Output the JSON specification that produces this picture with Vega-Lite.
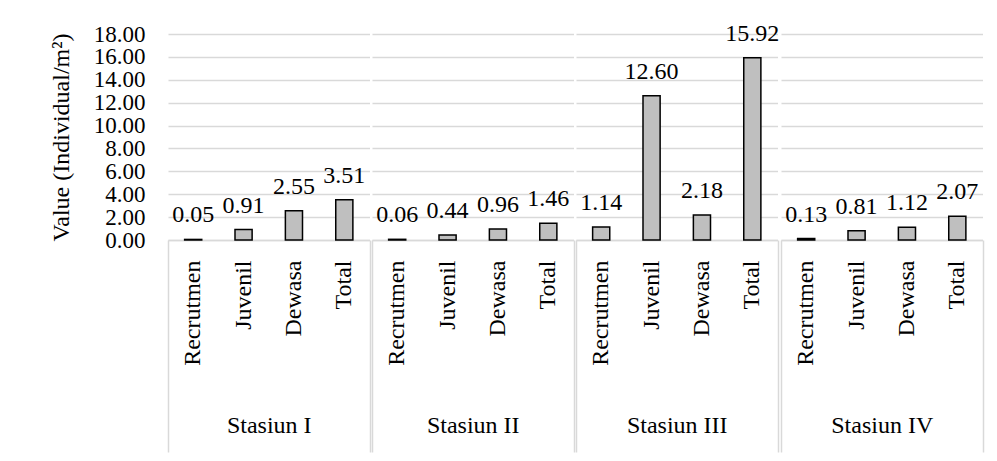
{
  "$schema": "https://vega.github.io/schema/vega-lite/v6.json",
  "background": "white",
  "padding": {"left": 49, "top": 21, "right": 5, "bottom": 5},
  "config": {"view": {"stroke": null}, "font": "Liberation Serif, Times New Roman, DejaVu Serif, serif"},
  "data": {"values": [
    {"stasiun": "Stasiun I", "kategori": "Recrutmen", "value": 0.05},
    {"stasiun": "Stasiun I", "kategori": "Juvenil", "value": 0.91},
    {"stasiun": "Stasiun I", "kategori": "Dewasa", "value": 2.55},
    {"stasiun": "Stasiun I", "kategori": "Total", "value": 3.51},
    {"stasiun": "Stasiun II", "kategori": "Recrutmen", "value": 0.06},
    {"stasiun": "Stasiun II", "kategori": "Juvenil", "value": 0.44},
    {"stasiun": "Stasiun II", "kategori": "Dewasa", "value": 0.96},
    {"stasiun": "Stasiun II", "kategori": "Total", "value": 1.46},
    {"stasiun": "Stasiun III", "kategori": "Recrutmen", "value": 1.14},
    {"stasiun": "Stasiun III", "kategori": "Juvenil", "value": 12.60},
    {"stasiun": "Stasiun III", "kategori": "Dewasa", "value": 2.18},
    {"stasiun": "Stasiun III", "kategori": "Total", "value": 15.92},
    {"stasiun": "Stasiun IV", "kategori": "Recrutmen", "value": 0.13},
    {"stasiun": "Stasiun IV", "kategori": "Juvenil", "value": 0.81},
    {"stasiun": "Stasiun IV", "kategori": "Dewasa", "value": 1.12},
    {"stasiun": "Stasiun IV", "kategori": "Total", "value": 2.07}
  ]},
  "facet": {"column": {"field": "stasiun", "type": "nominal", "sort": ["Stasiun I", "Stasiun II", "Stasiun III", "Stasiun IV"], "header": null}},
  "spacing": 0,
  "resolve": {"scale": {"x": "independent"}},
  "spec": {
    "width": 201.5,
    "height": 206,
    "layer": [
      {
        "layer": [
          {
            "mark": {"type": "bar", "fill": "#bfbfbf", "stroke": "black", "strokeWidth": 1.5},
            "encoding": {
              "x": {"field": "kategori", "type": "nominal", "sort": ["Recrutmen", "Juvenil", "Dewasa", "Total"],
                "scale": {"paddingInner": 0.66, "paddingOuter": 0.33},
                "axis": {"orient": "bottom", "title": null, "labelAngle": -90, "labelFont": "Liberation Serif, Times New Roman, DejaVu Serif, serif", "labelFontSize": 24, "labelColor": "black", "labelPadding": 20, "ticks": false, "domainColor": "#d9d9d9", "domainWidth": 1.5, "grid": false}},
              "y": {"field": "value", "type": "quantitative", "scale": {"domain": [0, 18]},
                "axis": {"title": "Value (Individual/m²)", "titleFont": "Liberation Serif, Times New Roman, DejaVu Serif, serif", "titleFontSize": 24, "titleFontWeight": "normal", "titleColor": "black", "titlePadding": 20,
                  "values": [0, 2, 4, 6, 8, 10, 12, 14, 16, 18], "format": ".2f", "labelFont": "Liberation Serif, Times New Roman, DejaVu Serif, serif", "labelFontSize": 23, "labelColor": "black", "labelPadding": 22, "labelOverlap": false,
                  "ticks": false, "domain": false, "gridColor": "#d9d9d9", "gridWidth": 1.5}}
            }
          },
          {
            "mark": {"type": "text", "baseline": "middle", "dy": -24, "font": "Liberation Serif, Times New Roman, DejaVu Serif, serif", "fontSize": 24, "color": "black"},
            "encoding": {
              "x": {"field": "kategori", "type": "nominal", "sort": ["Recrutmen", "Juvenil", "Dewasa", "Total"]},
              "y": {"field": "value", "type": "quantitative",
                "axis": {"title": "Value (Individual/m²)", "titleFont": "Liberation Serif, Times New Roman, DejaVu Serif, serif", "titleFontSize": 24, "titleFontWeight": "normal", "titleColor": "black", "titlePadding": 20,
                  "values": [0, 2, 4, 6, 8, 10, 12, 14, 16, 18], "format": ".2f", "labelFont": "Liberation Serif, Times New Roman, DejaVu Serif, serif", "labelFontSize": 23, "labelColor": "black", "labelPadding": 22, "labelOverlap": false,
                  "ticks": false, "domain": false, "gridColor": "#d9d9d9", "gridWidth": 1.5}},
              "text": {"field": "value", "type": "quantitative", "format": ".2f"}
            }
          }
        ]
      },
      {
        "mark": {"type": "point", "opacity": 0},
        "encoding": {
          "x": {"field": "stasiun", "type": "nominal",
            "scale": {"type": "band", "paddingInner": 0, "paddingOuter": 0},
            "axis": {"orient": "bottom", "title": null, "domain": false, "grid": false, "tickBand": "extent", "tickSize": 212, "tickColor": "#d9d9d9", "tickWidth": 1.5,
              "labelAngle": 0, "labelFont": "Liberation Serif, Times New Roman, DejaVu Serif, serif", "labelFontSize": 24, "labelColor": "black", "labelPadding": -27, "labelBaseline": "middle"}}
        }
      }
    ],
    "resolve": {"scale": {"x": "independent"}}
  }
}
